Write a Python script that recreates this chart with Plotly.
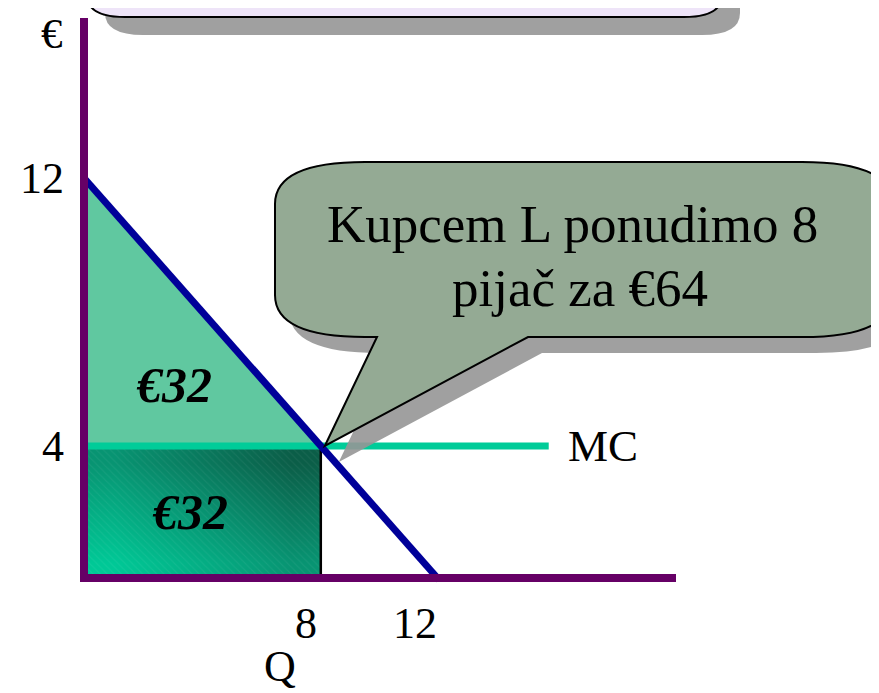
import plotly.graph_objects as go

# ---------------- data ----------------
demand_q = [0, 12]
demand_p = [12, 0]
mc_q = [0, 15.7]
mc_p = [4, 4]
offer_q = 8
offer_p = 4
cs_tri_q = [0, 0, 8, 0]
cs_tri_p = [12, 4, 4, 12]
y_ticks = [12, 4]
y_tick_labels = ["12", "4"]
x_ticks = [8, 12]
x_tick_labels = ["8", "12"]
area_labels = ["€32", "€32"]
callout_lines = ["Kupcem L ponudimo 8", "pijač za €64"]

# ---------------- geometry ----------------
W, H = 879, 693
OFF = 8               # page body margin
XS, X0 = 29.6, 84.0   # px per Q unit, screen px of Q=0
YS, Y0 = 33.5, 580.0  # px per P unit, screen px of P=0


def qx(px):
    return (px - X0) / XS


def py2p(py):
    return (Y0 - py) / YS


def to_px(q, p):
    return X0 + q * XS, Y0 - p * YS


def paper(px, py):
    return f"{(px - OFF) / W:.5f},{1 - (py - OFF) / H:.5f}"


def rounded_callout(L, T, R, B, rx, ry, dx=0, dy=0, tail=None):
    L, R, T, B = L + dx, R + dx, T + dy, B + dy
    s = f"M {paper(L + rx, T)} L {paper(R - rx, T)} Q {paper(R, T)} {paper(R, T + ry)} "
    s += f"L {paper(R, B - ry)} Q {paper(R, B)} {paper(R - rx, B)} "
    if tail:
        (trx, _), (tpx, tpy), (tlx, _) = tail
        s += f"L {paper(trx + dx, B)} L {paper(tpx + dx, tpy + dy)} L {paper(tlx + dx, B)} "
    s += f"L {paper(L + rx, B)} Q {paper(L, B)} {paper(L, B - ry)} "
    s += f"L {paper(L, T + ry)} Q {paper(L, T)} {paper(L + rx, T)} Z"
    return s


fig = go.Figure()

# consumer-surplus triangle
fig.add_trace(go.Scatter(x=cs_tri_q, y=cs_tri_p, mode="lines", fill="toself",
                         fillcolor="#60C8A0", line=dict(width=0), hoverinfo="skip",
                         showlegend=False))

# revenue rectangle with diagonal gradient (styling only)
grad_x = [offer_q * f for f in (0.125, 0.375, 0.625, 0.875)]
grad_y = [offer_p * f for f in (0.125, 0.375, 0.625, 0.875)]
fig.add_trace(go.Heatmap(x=grad_x, y=grad_y,
                         z=[[0, 1, 2, 3], [1, 2, 3, 4], [2, 3, 4, 5], [3, 4, 5, 6]],
                         zsmooth="best", showscale=False,
                         colorscale=[[0, "#00C896"], [0.5, "#089472"], [1, "#0B5E48"]],
                         hoverinfo="skip"))
fig.add_trace(go.Scatter(x=[0, offer_q, offer_q, 0, 0], y=[0, 0, offer_p, offer_p, 0],
                         mode="lines", fill="toself", fillcolor="rgba(0,0,0,0)",
                         fillpattern=dict(shape="\\", fgcolor="rgba(255,255,255,0.12)",
                                          bgcolor="rgba(0,0,0,0)", size=5, solidity=0.2),
                         line=dict(color="black", width=2.5), hoverinfo="skip", showlegend=False))

# MC line
fig.add_trace(go.Scatter(x=mc_q, y=mc_p, mode="lines", line=dict(color="#00CC99", width=7),
                         hoverinfo="skip", showlegend=False))
# demand line
fig.add_trace(go.Scatter(x=demand_q, y=demand_p, mode="lines", line=dict(color="#000099", width=7),
                         hoverinfo="skip", showlegend=False))

shapes = []
# axes
shapes.append(dict(type="line", xref="x", yref="y", x0=0, x1=0, y0=py2p(18), y1=py2p(582),
                   line=dict(color="#660066", width=8), layer="above"))
shapes.append(dict(type="line", xref="x", yref="y", x0=qx(80), x1=qx(676), y0=py2p(578), y1=py2p(578),
                   line=dict(color="#660066", width=8), layer="above"))

# top title box (cut off)
shapes.append(dict(type="path", xref="paper", yref="paper", layer="above",
                   path=rounded_callout(87, -60, 722, 17, 38, 22, dx=18, dy=18),
                   fillcolor="#A0A0A0", line=dict(width=0)))
shapes.append(dict(type="path", xref="paper", yref="paper", layer="above",
                   path=rounded_callout(87, -60, 722, 17, 38, 22),
                   fillcolor="#EEE4F8", line=dict(color="black", width=2)))

# callout bubble
tip_x, tip_y = to_px(offer_q, offer_p)
tail = ((528, 0), (tip_x + 4, tip_y), (377, 0))
cL, cT, cR, cB = 275, 162, 892, 337
shapes.append(dict(type="path", xref="paper", yref="paper", layer="above",
                   path=rounded_callout(cL, cT, cR, cB, 90, 42, dx=14, dy=16, tail=tail),
                   fillcolor="rgba(150,150,150,0.9)", line=dict(width=0)))
shapes.append(dict(type="path", xref="paper", yref="paper", layer="above",
                   path=rounded_callout(cL, cT, cR, cB, 90, 42, tail=tail),
                   fillcolor="#94AA94", line=dict(color="black", width=2)))

FONT = "Liberation Serif, Times New Roman, serif"
ann = []
for v, t in zip(y_ticks, y_tick_labels):
    ann.append(dict(x=qx(66), y=v, xref="x", yref="y", text=t, showarrow=False,
                    xanchor="right", yanchor="middle", font=dict(family=FONT, size=44, color="black")))
ann.append(dict(x=qx(65), y=py2p(33), xref="x", yref="y", text="€", showarrow=False,
                xanchor="right", yanchor="middle", font=dict(family=FONT, size=43, color="black")))
for v, t, sh in zip(x_ticks, x_tick_labels, (-15, -24)):
    ann.append(dict(x=v, y=py2p(623), xref="x", yref="y", text=t, showarrow=False, xshift=sh,
                    xanchor="center", yanchor="middle", font=dict(family=FONT, size=44, color="black")))
ann.append(dict(x=qx(280), y=py2p(666), xref="x", yref="y", text="Q", showarrow=False,
                xanchor="center", yanchor="middle", font=dict(family=FONT, size=44, color="black")))
ann.append(dict(x=mc_q[-1], y=mc_p[-1], xref="x", yref="y", text="MC", showarrow=False, xshift=17,
                xanchor="left", yanchor="middle", font=dict(family=FONT, size=45, color="black")))
ann.append(dict(x=qx(174), y=py2p(385), xref="x", yref="y", text=f"<b><i>{area_labels[0]}</i></b>",
                showarrow=False, font=dict(family=FONT, size=50, color="black")))
ann.append(dict(x=qx(190), y=py2p(512), xref="x", yref="y", text=f"<b><i>{area_labels[1]}</i></b>",
                showarrow=False, font=dict(family=FONT, size=50, color="black")))
for line, (cx, cy) in zip(callout_lines, ((572, 224), (580, 288))):
    ann.append(dict(x=qx(cx), y=py2p(cy), xref="x", yref="y", text=line, showarrow=False,
                    xanchor="center", yanchor="middle",
                    font=dict(family=FONT, size=53, color="black")))

fig.update_layout(
    width=W, height=H, margin=dict(l=0, r=0, t=0, b=0),
    paper_bgcolor="white", plot_bgcolor="white",
    xaxis=dict(range=[qx(OFF), qx(W + OFF)], visible=False, fixedrange=True),
    yaxis=dict(range=[py2p(H + OFF), py2p(OFF)], visible=False, fixedrange=True),
    shapes=shapes, annotations=ann, showlegend=False,
)

fig.write_html("out.html")
